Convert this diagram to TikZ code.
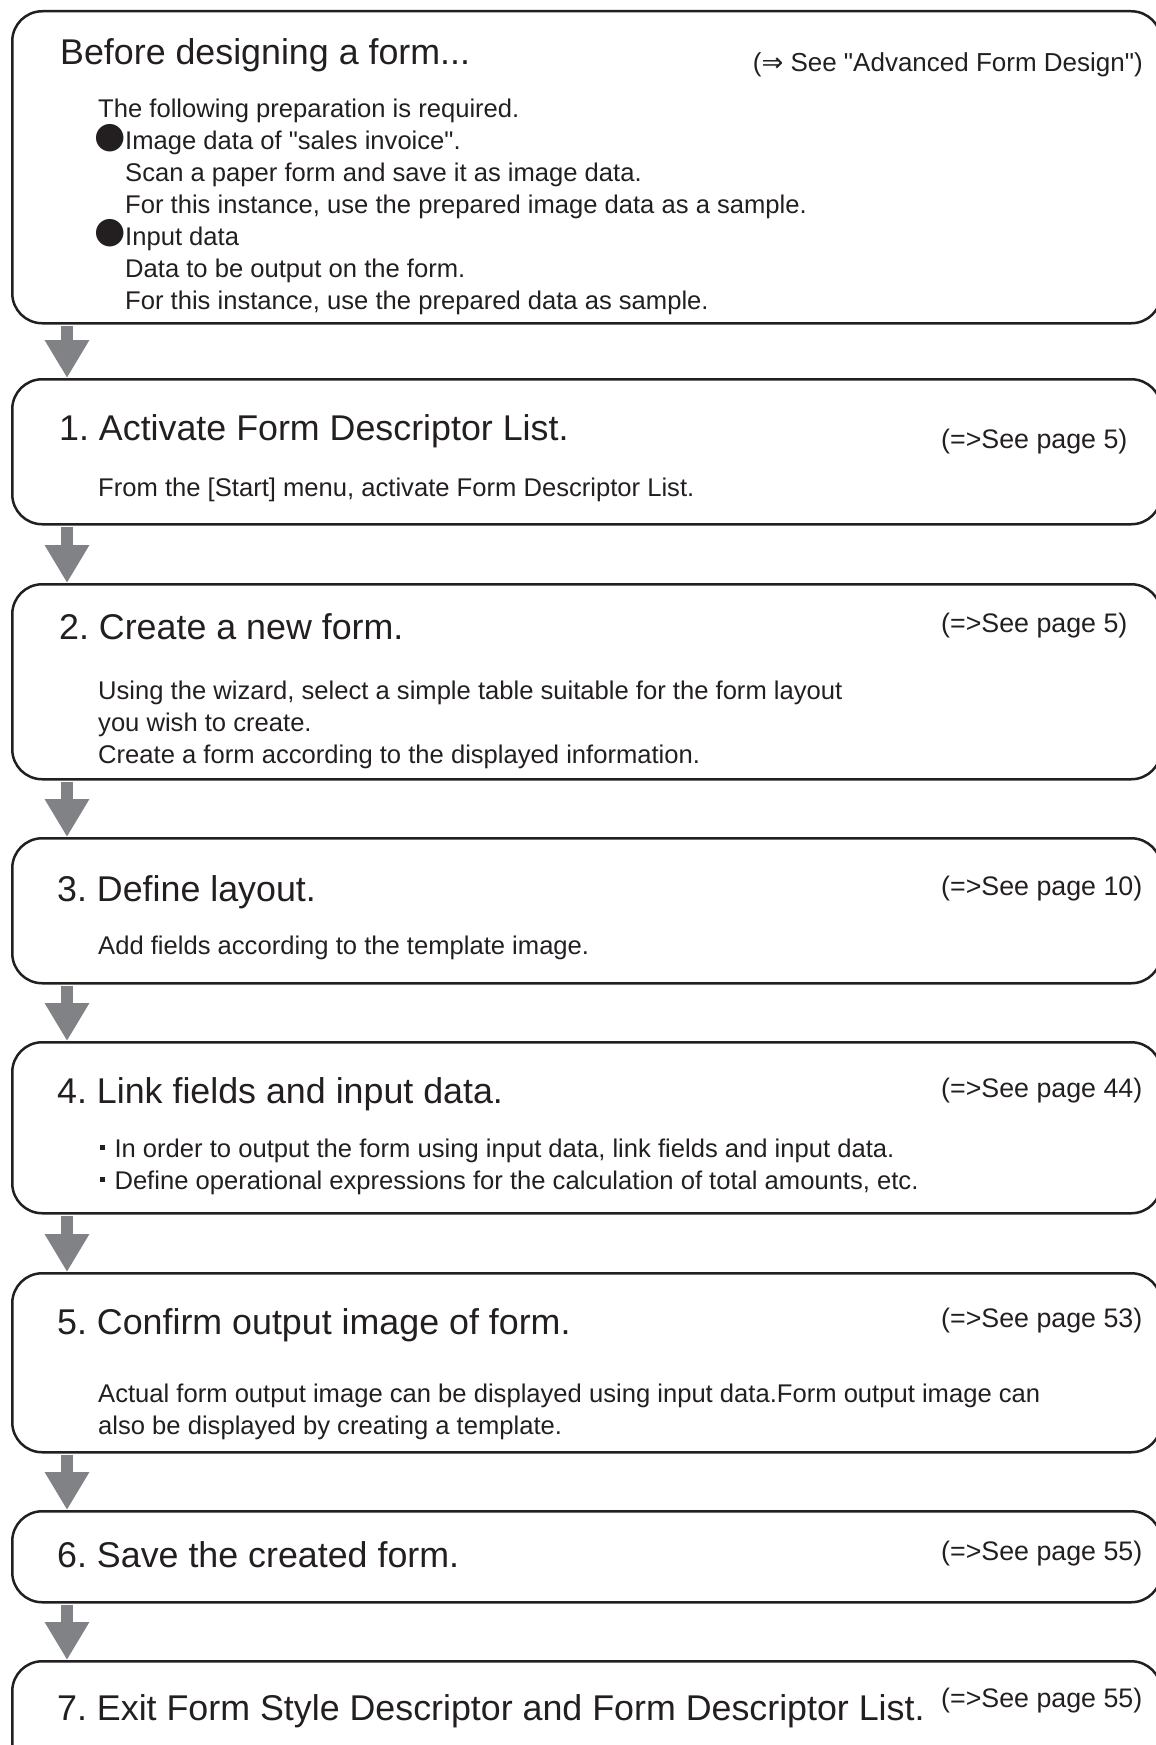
\documentclass[tikz,border=0pt]{standalone}
\usepackage{fontspec}
\setmainfont{Liberation Sans}
\newfontfamily\symfont{DejaVu Sans}
\usetikzlibrary{arrows.meta}
\definecolor{ink}{HTML}{231F20}
\definecolor{arrowgray}{HTML}{808285}
\newcommand\ttlsize{\frenchspacing\fontsize{35.8}{40}\selectfont}
\newcommand\bdysize{\frenchspacing\fontsize{25.6}{30}\selectfont}
\newcommand\refsize{\frenchspacing\fontsize{26.8}{30}\selectfont}
\newcommand\advsize{\frenchspacing\fontsize{26}{30}\selectfont}
\newcommand\midsq{\makebox[0.95em][c]{\rule[0.27em]{0.2em}{0.2em}}}
\newcommand\qd{\textquotedbl}
\begin{document}
\begin{tikzpicture}[x=1pt,y=-1pt,
  stepbox/.style={draw=ink, line width=2.5pt, rounded corners=30pt, rectangle, anchor=north west, inner sep=0pt, minimum width=1149pt},
  ttl/.style={anchor=base west, inner sep=0pt, text=ink, font=\ttlsize},
  bdy/.style={anchor=base west, inner sep=0pt, text=ink, font=\bdysize},
  pref/.style={anchor=base west, inner sep=0pt, text=ink, font=\refsize},
  bulletdot/.style={anchor=center, inner sep=0pt, text=ink, font=\fontsize{36}{36}\selectfont\symfont},
  flow/.style={draw=arrowgray, line width=12pt, -{Triangle[width=42pt,length=38pt]}, shorten <=1.25pt},
]
\useasboundingbox (0,0) rectangle (1156,1745);
\clip (0,0) rectangle (1156,1745);

% boxes
\node[stepbox, minimum height=312pt] (b0) at (11,10) {};
\node[stepbox, minimum height=145pt] (b1) at (11,378) {};
\node[stepbox, minimum height=195pt] (b2) at (11,583) {};
\node[stepbox, minimum height=145pt] (b3) at (11,837) {};
\node[stepbox, minimum height=171pt] (b4) at (11,1041) {};
\node[stepbox, minimum height=179pt] (b5) at (11,1272) {};
\node[stepbox, minimum height=91pt] (b6) at (11,1510) {};
\node[stepbox, minimum height=120pt] (b7) at (11,1660) {};

% arrows
\draw[flow] ([xshift=56pt]b0.south west) -- ([xshift=56pt]b1.north west);
\draw[flow] ([xshift=56pt]b1.south west) -- ([xshift=56pt]b2.north west);
\draw[flow] ([xshift=56pt]b2.south west) -- ([xshift=56pt]b3.north west);
\draw[flow] ([xshift=56pt]b3.south west) -- ([xshift=56pt]b4.north west);
\draw[flow] ([xshift=56pt]b4.south west) -- ([xshift=56pt]b5.north west);
\draw[flow] ([xshift=56pt]b5.south west) -- ([xshift=56pt]b6.north west);
\draw[flow] ([xshift=56pt]b6.south west) -- ([xshift=56pt]b7.north west);

% box 0
\node[ttl] (t0) at (60,65) {Before designing a form...};
\node[anchor=base east, inner sep=0pt, text=ink, font=\advsize] (r0) at (1143,71) {({\symfont ⇒} See \qd Advanced Form Design\qd)};
\node[bdy] (l01) at (98,117) {The following preparation is required.};
\node[bulletdot] (d1) at (110,138) {●};
\node[bdy] (l02) at (125,149) {Image data of \qd sales invoice\qd.};
\node[bdy] (l03) at (125,181) {Scan a paper form and save it as image data.};
\node[bdy] (l04) at (125,213) {For this instance, use the prepared image data as a sample.};
\node[bulletdot] (d2) at (110,233) {●};
\node[bdy] (l05) at (125,245) {Input data};
\node[bdy] (l06) at (125,277) {Data to be output on the form.};
\node[bdy] (l07) at (125,309) {For this instance, use the prepared data as sample.};

% box 1
\node[ttl] (t1) at (59,440) {1. Activate Form Descriptor List.};
\node[pref] (r1) at (941,448) {(=>See page 5)};
\node[bdy] (l11) at (98,496) {From the [Start] menu, activate Form Descriptor List.};

% box 2
\node[ttl] (t2) at (59,639) {2. Create a new form.};
\node[pref] (r2) at (941,632) {(=>See page 5)};
\node[bdy] (l21) at (98,699) {Using the wizard, select a simple table suitable for the form layout};
\node[bdy] (l22) at (98,731) {you wish to create.};
\node[bdy] (l23) at (98,763) {Create a form according to the displayed information.};

% box 3
\node[ttl] (t3) at (57,901) {3. Define layout.};
\node[pref] (r3) at (941,895) {(=>See page 10)};
\node[bdy] (l31) at (98,954) {Add fields according to the template image.};

% box 4
\node[ttl] (t4) at (57,1103) {4. Link fields and input data.};
\node[pref] (r4) at (941,1097) {(=>See page 44)};
\node[bdy] (l41) at (90,1157) {\midsq In order to output the form using input data, link fields and input data.};
\node[bdy] (l42) at (90,1189) {\midsq Define operational expressions for the calculation of total amounts, etc.};

% box 5
\node[ttl] (t5) at (57,1334) {5. Confirm output image of form.};
\node[pref] (r5) at (941,1327) {(=>See page 53)};
\node[bdy] (l51) at (98,1402) {Actual form output image can be displayed using input data.Form output image can};
\node[bdy] (l52) at (98,1434) {also be displayed by creating a template.};

% box 6
\node[ttl] (t6) at (57,1567) {6. Save the created form.};
\node[pref] (r6) at (941,1560) {(=>See page 55)};

% box 7
\node[ttl] (t7) at (57,1720) {7. Exit Form Style Descriptor and Form Descriptor List.};
\node[pref] (r7) at (941,1707) {(=>See page 55)};
\end{tikzpicture}
\end{document}
